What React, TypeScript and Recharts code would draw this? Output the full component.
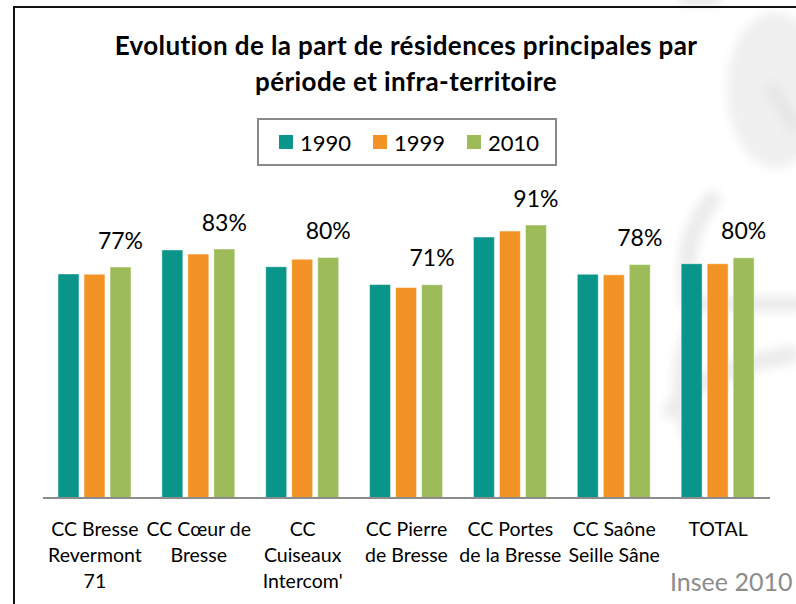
import { Bar, BarChart, LabelList, Legend, XAxis, YAxis } from "recharts";

const categories = [
  "CC Bresse\nRevermont\n71",
  "CC Cœur de\nBresse",
  "CC\nCuiseaux\nIntercom'",
  "CC Pierre\nde Bresse",
  "CC Portes\nde la Bresse",
  "CC Saône\nSeille Sâne",
  "TOTAL",
];

const share1990 = [0.747, 0.827, 0.771, 0.712, 0.87, 0.746, 0.781];
const share1999 = [0.746, 0.813, 0.796, 0.702, 0.89, 0.744, 0.781];
const share2010 = [0.77, 0.83, 0.802, 0.711, 0.91, 0.778, 0.801];

const seriesNames = ["1990", "1999", "2010"];
const COLORS = ["#0a958a", "#f39325", "#9dbb59"];

const FONT = "Lato, 'Open Sans', sans-serif";

const data = categories.map((name, i) => ({
  name,
  y1990: share1990[i],
  y1999: share1999[i],
  y2010: share2010[i],
}));

type TickProps = { x?: number; y?: number; payload?: { value: string } };

const CategoryTick = ({ x = 0, y = 0, payload }: TickProps) => {
  const lines = (payload?.value ?? "").split("\n");
  return (
    <text x={x} y={y} textAnchor="middle" fontFamily={FONT} fontSize={19.5} fill="#000">
      {lines.map((line, i) => (
        <tspan key={i} x={x} dy={i === 0 ? 30 : 26}>
          {line}
        </tspan>
      ))}
    </text>
  );
};

type LabelProps = { x?: number | string; y?: number | string; width?: number | string; value?: number | string };

const PercentLabel = ({ x = 0, y = 0, width = 0, value }: LabelProps) => {
  const v = Number(value);
  return (
    <text
      x={Number(x) + Number(width) / 2}
      y={Number(y) - 18.5}
      textAnchor="middle"
      fontFamily={FONT}
      fontSize={23}
      fill="#000"
    >
      {`${Math.round(v * 100)}%`}
    </text>
  );
};

const LegendBox = () => (
  <div
    style={{
      width: 296,
      height: 44,
      border: "2px solid #8a8a8a",
      display: "flex",
      alignItems: "center",
      fontFamily: FONT,
      fontSize: 22,
      color: "#000",
      boxSizing: "content-box",
    }}
  >
    {seriesNames.map((name, i) => (
      <div
        key={name}
        style={{
          display: "flex",
          alignItems: "center",
          marginLeft: i === 0 ? 20 : 22,
        }}
      >
        <span
          style={{
            display: "inline-block",
            width: 14,
            height: 14,
            background: COLORS[i],
            marginRight: 7,
          }}
        />
        <span>{name}</span>
      </div>
    ))}
  </div>
);

// faint grey logo behind the chart, right side
const Watermark = () => (
  <svg width={796} height={604} style={{ position: "absolute", left: 0, top: 0 }}>
    <defs>
      <filter id="soft" x="-30%" y="-30%" width="160%" height="160%">
        <feGaussianBlur stdDeviation="5" />
      </filter>
    </defs>
    <g filter="url(#soft)">
      <ellipse cx={775} cy={90} rx={48} ry={78} fill="#f0f0f0" />
      <path d="M 770 85 L 796 130" stroke="#e6e6e6" strokeWidth={14} fill="none" />
      <path d="M 680 0 L 720 0" stroke="#e8e8e8" strokeWidth={10} fill="none" />
    </g>
    <g fill="none" stroke="#ececec" strokeWidth={18} strokeLinecap="round" filter="url(#soft)">
      <path d="M 712 200 Q 678 240 690 305" />
      <path d="M 700 304 L 796 304" strokeWidth={16} />
      <path d="M 672 410 Q 700 370 790 355" />
      <path d="M 690 330 Q 670 380 690 440" strokeWidth={14} />
    </g>
  </svg>
);

export default function App() {
  return (
    <div
      style={{
        position: "fixed",
        left: 0,
        top: 0,
        width: 796,
        height: 604,
        background: "#fff",
        overflow: "hidden",
      }}
    >
      <Watermark />
      <div
        style={{
          position: "absolute",
          left: 13,
          top: 6,
          width: 800,
          height: 620,
          borderTop: "2px solid #111",
          borderLeft: "2.5px solid #111",
        }}
      />
      <div
        style={{
          position: "absolute",
          left: 0,
          top: 27,
          width: 812,
          textAlign: "center",
          fontFamily: FONT,
          fontWeight: 700,
          fontSize: 26,
          letterSpacing: 0.4,
          lineHeight: "36px",
          fontVariantLigatures: "none",
          color: "#000",
        }}
      >
        Evolution de la part de résidences principales par
        <br />
        période et infra-territoire
      </div>
      <div style={{ position: "absolute", left: 0, top: 0 }}>
        <BarChart
          width={796}
          height={604}
          data={data}
          margin={{ top: 198, right: 26, bottom: 16, left: 43 }}
          barSize={21}
          barGap={5}
        >
          <XAxis
            dataKey="name"
            height={90}
            tickLine={false}
            axisLine={{ stroke: "#8c8c8c", strokeWidth: 2 }}
            tick={<CategoryTick />}
            interval={0}
          />
          <YAxis hide domain={[0, 1]} width={0} />
          <Legend
            verticalAlign="middle"
            content={<LegendBox />}
            wrapperStyle={{ position: "absolute", left: 257, top: 118, width: "auto" }}
          />
          <Bar dataKey="y1990" name="1990" fill={COLORS[0]} stroke="#ffffff" strokeOpacity={0.5} isAnimationActive={false} />
          <Bar dataKey="y1999" name="1999" fill={COLORS[1]} stroke="#ffffff" strokeOpacity={0.5} isAnimationActive={false} />
          <Bar dataKey="y2010" name="2010" fill={COLORS[2]} stroke="#ffffff" strokeOpacity={0.5} isAnimationActive={false}>
            <LabelList dataKey="y2010" content={<PercentLabel />} />
          </Bar>
        </BarChart>
      </div>
      <div
        style={{
          position: "absolute",
          left: 670,
          top: 566,
          fontFamily: FONT,
          fontSize: 25,
          color: "#8c8c8c",
          whiteSpace: "nowrap",
        }}
      >
        Insee 2010
      </div>
    </div>
  );
}
